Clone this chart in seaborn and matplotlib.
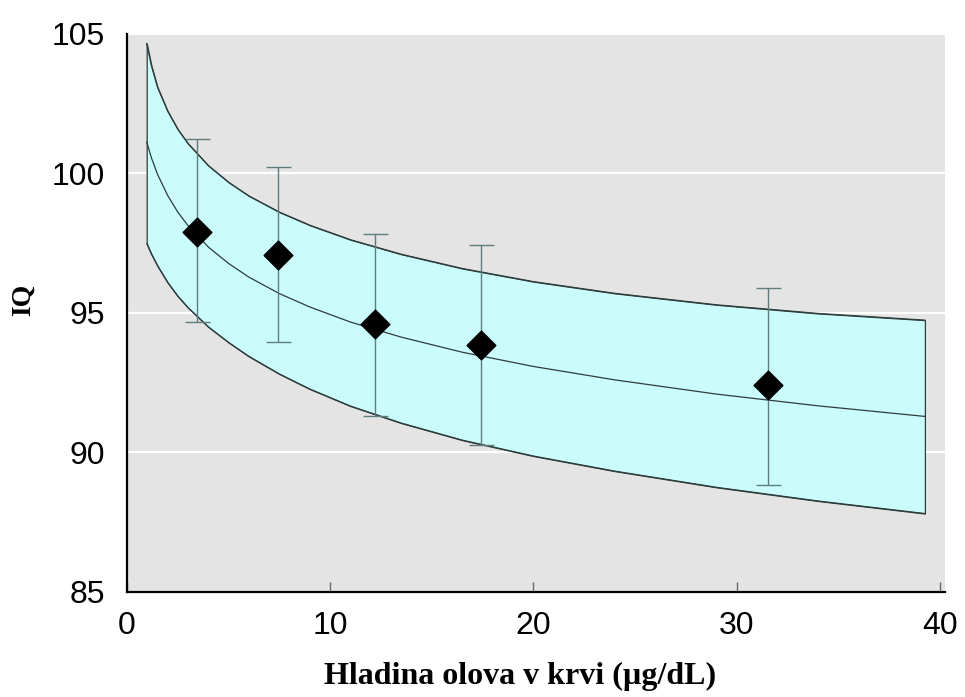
import matplotlib
matplotlib.use("Agg")
import pandas as pd
import matplotlib.pyplot as plt
import seaborn as sns

# curves (blood lead vs IQ, with band)
lead_x = [0.97, 1.2, 1.5, 2.0, 2.5, 3.0, 4.0, 5.0, 6.0, 7.5, 9.0, 11.0, 13.5, 16.5, 20.0, 24.0, 29.0, 34.0, 39.26]
iq_upper = [104.66, 103.86, 103.09, 102.23, 101.58, 101.07, 100.28, 99.68, 99.19, 98.61,
            98.14, 97.62, 97.10, 96.59, 96.12, 95.70, 95.29, 94.98, 94.74]
iq_mid = [101.13, 100.56, 99.97, 99.21, 98.61, 98.13, 97.36, 96.77, 96.28, 95.69,
          95.21, 94.67, 94.13, 93.59, 93.08, 92.60, 92.09, 91.67, 91.29]
iq_lower = [97.49, 97.11, 96.69, 96.09, 95.60, 95.19, 94.50, 93.94, 93.44, 92.81,
            92.27, 91.66, 91.05, 90.44, 89.87, 89.33, 88.75, 88.26, 87.81]

# group means with error bars
pt_lead = [3.44, 7.41, 12.20, 17.40, 31.55]
pt_iq = [97.91, 97.07, 94.60, 93.85, 92.41]
pt_hi = [101.23, 100.24, 97.82, 97.43, 95.90]
pt_lo = [94.68, 93.96, 91.30, 90.26, 88.85]

x_ticks = [0, 10, 20, 30, 40]
y_ticks = [85, 90, 95, 100, 105]

sns.set_style("darkgrid", {"axes.facecolor": "#e4e4e4", "grid.color": "white"})
plt.rcParams["font.family"] = ["Liberation Sans Narrow", "DejaVu Sans Condensed",
                               "Liberation Sans", "DejaVu Sans"]

curves = pd.DataFrame({"lead": lead_x, "upper": iq_upper, "mid": iq_mid, "lower": iq_lower})
points = pd.DataFrame({"lead": pt_lead, "iq": pt_iq, "hi": pt_hi, "lo": pt_lo})

fig = plt.figure(figsize=(9.65, 6.97), dpi=100)
ax = fig.add_axes([0.1316, 0.1507, 0.8477, 0.8008])

line_col = "#2e3c3c"
ax.fill_between(curves["lead"], curves["lower"], curves["upper"],
                facecolor="#cbfcfc", edgecolor=line_col, lw=0.9, zorder=2)
for col in ["upper", "mid", "lower"]:
    sns.lineplot(data=curves, x="lead", y=col, ax=ax, color=line_col, lw=0.9, zorder=3)

ax.errorbar(points["lead"], points["iq"],
            yerr=[points["iq"] - points["lo"], points["hi"] - points["iq"]],
            fmt="none", ecolor="#5f7d7d", elinewidth=1.0, capsize=9, capthick=1.0, zorder=4)
sns.scatterplot(data=points, x="lead", y="iq", marker="D", s=210, color="black",
                edgecolor="black", zorder=5, ax=ax)

ax.set_xlim(0, 40.25)
ax.set_ylim(85, 105)
ax.set_xticks(x_ticks)
ax.set_yticks(y_ticks)
ax.xaxis.grid(False)
ax.yaxis.grid(True, color="white", lw=1.6)

ax.tick_params(axis="x", direction="in", length=7, width=1, color="#666666",
               labelsize=23, labelcolor="black", pad=14, bottom=True)
ax.tick_params(axis="y", length=0, labelsize=23, labelcolor="black", pad=16)

for side in ["top", "right"]:
    ax.spines[side].set_visible(False)
for side in ["left", "bottom"]:
    ax.spines[side].set_visible(True)
    ax.spines[side].set_color("black")
    ax.spines[side].set_linewidth(1.6)

serif = ["Liberation Serif", "DejaVu Serif"]
ax.set_xlabel("Hladina olova v krvi (µg/dL)", family=serif, weight="bold", size=23, color="black")
ax.set_ylabel("IQ", family=serif, weight="bold", size=20, color="black")
ax.xaxis.set_label_coords(0.48, -0.125)
ax.yaxis.set_label_coords(-0.112, 0.523)

fig.savefig("out.png", dpi=100)
